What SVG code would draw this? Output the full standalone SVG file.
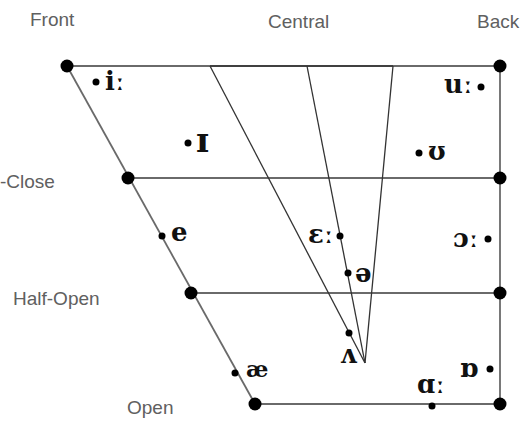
<svg xmlns="http://www.w3.org/2000/svg" width="523" height="421" viewBox="0 0 523 421">
<style>
.lbl{font-family:"Liberation Sans",Arial,sans-serif;font-size:19px;fill:#606060}
.ipa{font-family:"DejaVu Serif","Liberation Serif",serif;font-size:26px;font-weight:bold;fill:#111}
.sm{font-size:23px}
.tall{font-size:34px}
.edge{stroke:#6a6a6a;stroke-width:1.8;fill:none}
.inner{stroke:#333;stroke-width:1.3;fill:none}
.big{fill:#000}
.dot{fill:#000}
</style>
<rect width="523" height="421" fill="#fff"/>
<g id="labels">
<text class="lbl" x="30" y="26">Front</text>
<text class="lbl" x="268" y="28">Central</text>
<text class="lbl" x="477" y="28">Back</text>
<text class="lbl" x="0" y="188">-Close</text>
<text class="lbl" x="13" y="305">Half-Open</text>
<text class="lbl" x="127" y="414">Open</text>
</g>
<g id="connectors">
<line class="edge" x1="67" y1="66" x2="500" y2="66"/>
<line class="inner" x1="210" y1="66" x2="393" y2="66"/>
<line class="edge" x1="67" y1="66" x2="255" y2="404"/>
<line class="edge" x1="500" y1="66" x2="500" y2="404"/>
<line class="edge" x1="128" y1="178" x2="500" y2="178"/>
<line class="edge" x1="191" y1="293" x2="500" y2="293"/>
<line class="edge" x1="255" y1="404" x2="500" y2="404"/>
<line class="inner" x1="210" y1="66" x2="365" y2="363"/>
<line class="inner" x1="307" y1="66" x2="365" y2="363"/>
<line class="inner" x1="393" y1="66" x2="365" y2="363"/>
</g>
<g id="corners">
<circle class="big" cx="67" cy="66" r="6.5"/>
<circle class="big" cx="500" cy="66" r="6.5"/>
<circle class="big" cx="128" cy="178" r="6.5"/>
<circle class="big" cx="500" cy="178" r="6.5"/>
<circle class="big" cx="191" cy="293" r="6.5"/>
<circle class="big" cx="500" cy="293" r="6.5"/>
<circle class="big" cx="255" cy="404" r="6.5"/>
<circle class="big" cx="500" cy="404" r="6.5"/>
</g>
<g id="v-i"><circle class="dot" cx="96" cy="82" r="3.5"/><text class="ipa" x="105" y="90">iː</text></g>
<g id="v-I"><circle class="dot" cx="188" cy="143" r="3.5"/><text class="ipa tall" x="196" y="152">ɪ</text></g>
<g id="v-U"><circle class="dot" cx="419" cy="153" r="3.5"/><text class="ipa" x="428" y="160">ʊ</text></g>
<g id="v-u"><circle class="dot" cx="481" cy="87" r="3.5"/><text class="ipa" x="444" y="93">uː</text></g>
<g id="v-e"><circle class="dot" cx="162" cy="236" r="3.5"/><text class="ipa" x="171" y="241">e</text></g>
<g id="v-3"><circle class="dot" cx="340" cy="236" r="3.5"/><text class="ipa" x="308" y="243">ɛː</text></g>
<g id="v-schwa"><circle class="dot" cx="348" cy="273" r="3.5"/><text class="ipa" x="355" y="282">ə</text></g>
<g id="v-o"><circle class="dot" cx="488" cy="239" r="3.5"/><text class="ipa" x="453" y="247">ɔː</text></g>
<g id="v-V"><circle class="dot" cx="349" cy="333" r="3.5"/><text class="ipa" x="340" y="363">ʌ</text></g>
<g id="v-ae"><circle class="dot" cx="235" cy="373" r="3.5"/><text class="ipa sm" x="246" y="377">æ</text></g>
<g id="v-Q"><circle class="dot" cx="490" cy="369" r="3.5"/><text class="ipa" x="460" y="377">ɒ</text></g>
<g id="v-A"><circle class="dot" cx="432" cy="406" r="3.5"/><text class="ipa" x="417" y="393">ɑː</text></g>
</svg>
